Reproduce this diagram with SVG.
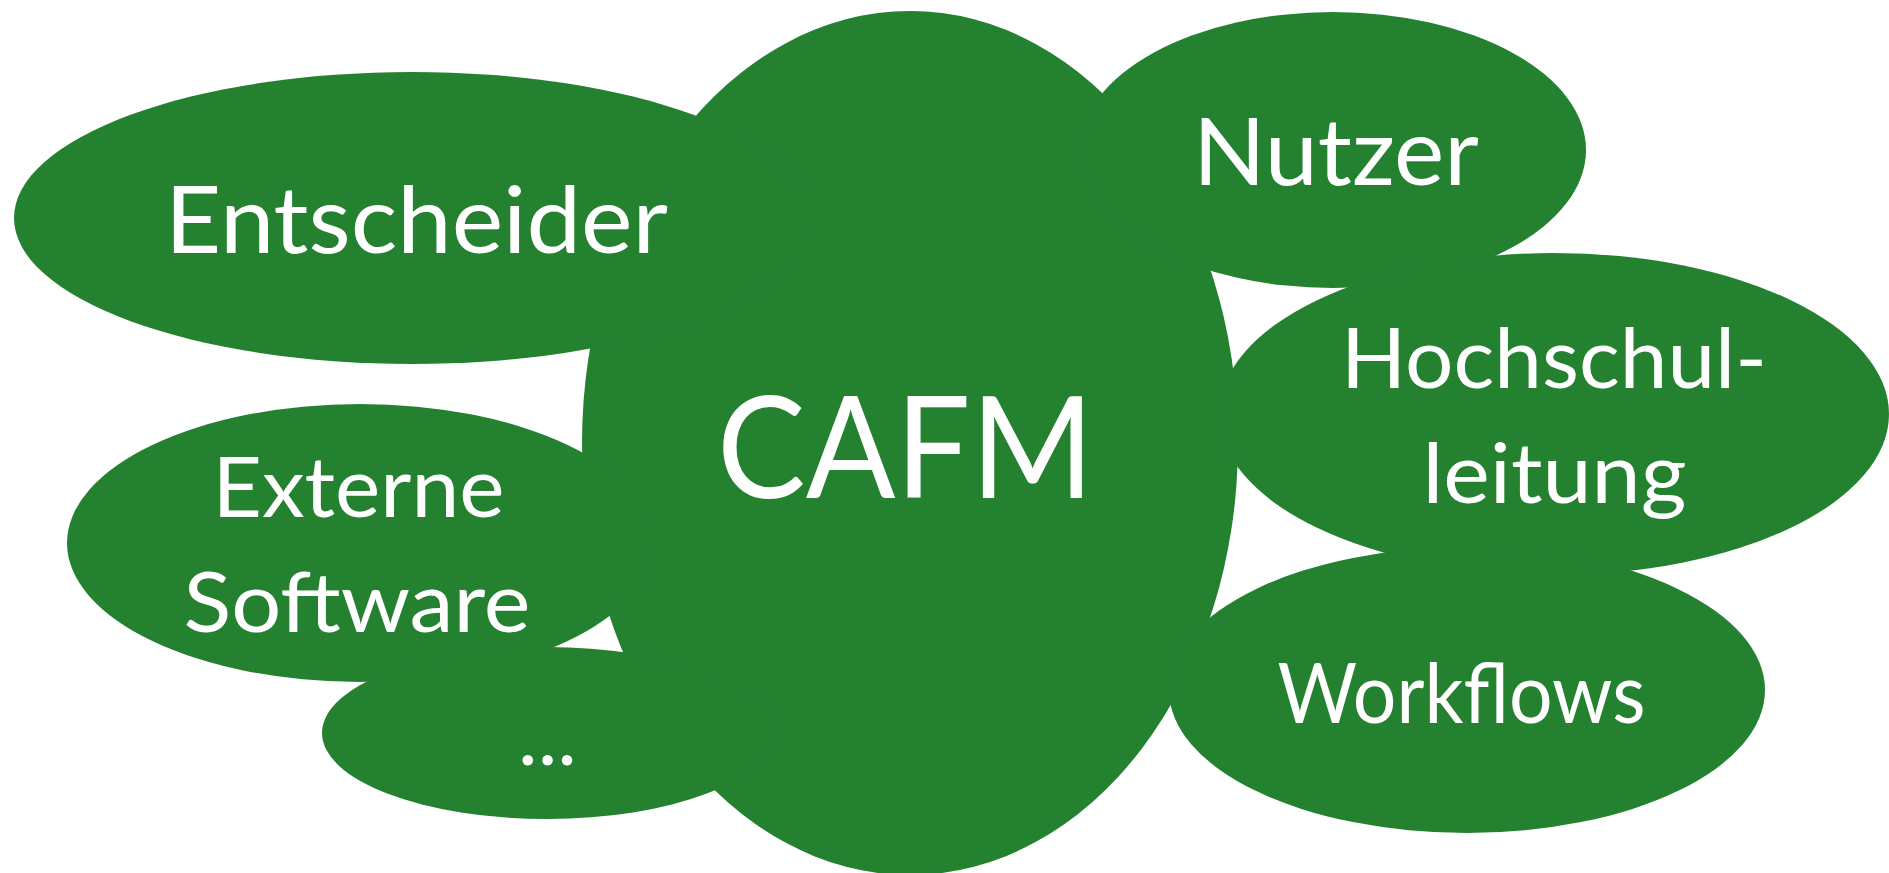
<svg xmlns="http://www.w3.org/2000/svg" width="1889" height="873" viewBox="0 0 1889 873">
<style>
.lobe{fill:#238130;stroke:none}
.lbl{fill:#ffffff;font-family:Lato,"Liberation Sans",sans-serif;text-anchor:middle;font-size:83px}
.big{font-size:93.5px}
.core{font-size:141px}
</style>
<rect x="0" y="0" width="1889" height="873" fill="#ffffff"/>
<g id="connectors"></g>
<g id="node-cafm">
<ellipse class="lobe" cx="910" cy="443" rx="328" ry="432"/>
<text class="lbl core" x="905.5" y="498" textLength="377" lengthAdjust="spacingAndGlyphs">CAFM</text>
</g>
<g id="node-entscheider">
<ellipse class="lobe" cx="412" cy="218" rx="398" ry="146"/>
<text class="lbl big" x="416.5" y="253" textLength="503" lengthAdjust="spacingAndGlyphs">Entscheider</text>
</g>
<g id="node-nutzer">
<ellipse class="lobe" cx="1333" cy="150" rx="253" ry="138"/>
<text class="lbl big" x="1336" y="185" textLength="286" lengthAdjust="spacingAndGlyphs">Nutzer</text>
</g>
<g id="node-hochschulleitung">
<ellipse class="lobe" cx="1554" cy="414" rx="335" ry="161"/>
<text class="lbl" x="1554" y="388" textLength="426" lengthAdjust="spacingAndGlyphs">Hochschul-</text>
<text class="lbl" x="1554.5" y="503" textLength="264" lengthAdjust="spacingAndGlyphs">leitung</text>
</g>
<g id="node-workflows">
<ellipse class="lobe" cx="1467" cy="690" rx="298" ry="143"/>
<text class="lbl" x="1461.5" y="723" textLength="368" lengthAdjust="spacingAndGlyphs">Workflows</text>
</g>
<g id="node-externe-software">
<ellipse class="lobe" cx="360" cy="543" rx="293" ry="139"/>
<text class="lbl" x="358.5" y="517" textLength="292" lengthAdjust="spacingAndGlyphs">Externe</text>
<text class="lbl" x="357" y="632" textLength="347" lengthAdjust="spacingAndGlyphs">Software</text>
</g>
<g id="node-more">
<ellipse class="lobe" cx="547" cy="733" rx="225" ry="86"/>
<text class="lbl" x="547.5" y="765">...</text>
</g>
</svg>
